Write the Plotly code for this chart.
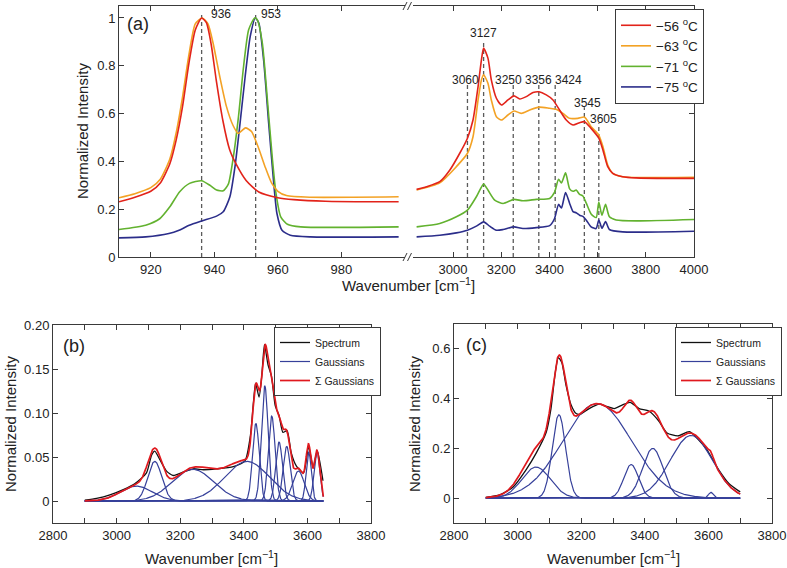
import numpy as np
import plotly.graph_objects as go

W, H = 787, 568
def px(x): return x / W
def py(y): return 1 - y / H

# ---------------- Panel (a) data ----------------
legend_labels = ["−56 <sup>o</sup>C", "−63 <sup>o</sup>C", "−71 <sup>o</sup>C", "−75 <sup>o</sup>C"]
colors_a = ["#e2231a", "#f3a225", "#62b22f", "#2b2d8a"]

red_low_wn = [910, 915, 920, 923, 926, 928, 930, 932, 934, 936, 937.5, 939, 940.6, 942.7, 944.8, 947, 950, 954, 960, 965, 975, 990, 998]
red_low_int = [0.231, 0.25, 0.275, 0.31, 0.39, 0.49, 0.63, 0.81, 0.95, 1.0, 0.98, 0.89, 0.74, 0.57, 0.45, 0.385, 0.32, 0.272, 0.248, 0.24, 0.233, 0.231, 0.231]
orange_low_wn = [910, 915, 920, 923, 926, 928, 930, 932, 934, 936.2, 938, 939.6, 941.7, 943.8, 945.9, 947.5, 949.8, 951.7, 953.8, 955.9, 958, 960, 962.7, 970, 998]
orange_low_int = [0.248, 0.265, 0.29, 0.325, 0.41, 0.52, 0.67, 0.845, 0.975, 1.0, 0.975, 0.895, 0.755, 0.63, 0.55, 0.517, 0.54, 0.525, 0.46, 0.38, 0.31, 0.275, 0.257, 0.25, 0.252]
green_low_wn = [910, 918.4, 922.8, 926, 929.1, 932.2, 936, 938.6, 940.7, 942.8, 944.4, 946, 947.6, 949.2, 950.8, 952.7, 953.5, 955.1, 956.7, 958.3, 959.4, 960.9, 963, 967.2, 998]
green_low_int = [0.115, 0.133, 0.16, 0.21, 0.273, 0.308, 0.319, 0.30, 0.28, 0.277, 0.305, 0.42, 0.587, 0.797, 0.951, 1.0, 0.993, 0.895, 0.657, 0.406, 0.266, 0.168, 0.137, 0.126, 0.126]
blue_low_wn = [910, 918.4, 925.7, 928.9, 932.1, 936, 940.7, 942.8, 944.9, 946.5, 948.1, 949.7, 951.3, 952.9, 954, 955.5, 957.1, 958.7, 959.7, 961.3, 963.9, 970.2, 998]
blue_low_int = [0.08, 0.084, 0.098, 0.112, 0.133, 0.151, 0.171, 0.189, 0.252, 0.378, 0.56, 0.755, 0.923, 1.0, 0.979, 0.825, 0.56, 0.308, 0.182, 0.112, 0.091, 0.084, 0.084]

red_high_wn = [2849, 2890, 2945, 2987, 3028, 3060, 3083, 3104, 3118, 3127, 3145, 3159, 3180, 3201, 3228, 3253, 3277, 3304, 3332, 3357, 3387, 3415, 3442, 3470, 3498, 3525, 3546, 3573, 3605, 3622, 3642, 3663, 3704, 3760, 3898, 4000]
red_high_int = [0.283, 0.294, 0.315, 0.364, 0.434, 0.497, 0.573, 0.713, 0.825, 0.874, 0.832, 0.741, 0.664, 0.636, 0.657, 0.674, 0.661, 0.671, 0.688, 0.691, 0.678, 0.657, 0.615, 0.573, 0.552, 0.562, 0.566, 0.538, 0.497, 0.448, 0.378, 0.35, 0.336, 0.331, 0.329, 0.329]
orange_high_wn = [2849, 2945, 3014, 3060, 3083, 3104, 3118, 3127, 3145, 3159, 3180, 3201, 3228, 3253, 3283, 3318, 3357, 3401, 3428, 3456, 3484, 3518, 3546, 3573, 3605, 3622, 3642, 3663, 3704, 4000]
orange_high_int = [0.28, 0.31, 0.378, 0.434, 0.503, 0.657, 0.741, 0.762, 0.727, 0.657, 0.587, 0.573, 0.594, 0.611, 0.601, 0.615, 0.627, 0.622, 0.618, 0.601, 0.58, 0.58, 0.585, 0.545, 0.51, 0.462, 0.385, 0.35, 0.336, 0.333]
green_high_wn = [2849, 2945, 3014, 3060, 3097, 3127, 3145, 3173, 3208, 3253, 3290, 3346, 3401, 3421, 3438, 3450, 3467, 3484, 3498, 3511, 3525, 3539, 3553, 3573, 3594, 3605, 3618, 3633, 3649, 3677, 3760, 4000]
green_high_int = [0.126, 0.14, 0.168, 0.196, 0.252, 0.305, 0.28, 0.238, 0.224, 0.241, 0.235, 0.241, 0.245, 0.27, 0.325, 0.31, 0.352, 0.285, 0.275, 0.28, 0.262, 0.255, 0.225, 0.18, 0.165, 0.23, 0.175, 0.22, 0.168, 0.155, 0.151, 0.157]
blue_high_wn = [2849, 2945, 3014, 3060, 3097, 3127, 3152, 3180, 3208, 3253, 3290, 3346, 3401, 3421, 3438, 3450, 3467, 3484, 3498, 3511, 3525, 3539, 3553, 3573, 3594, 3605, 3618, 3633, 3649, 3704, 4000]
blue_high_int = [0.084, 0.091, 0.101, 0.112, 0.129, 0.147, 0.129, 0.112, 0.115, 0.126, 0.119, 0.123, 0.131, 0.16, 0.22, 0.205, 0.27, 0.224, 0.19, 0.185, 0.175, 0.17, 0.154, 0.126, 0.119, 0.155, 0.12, 0.148, 0.115, 0.105, 0.108]

peaks_low = [936, 953]
peaks_low_top = [1.012, 1.012]
peaks_high = [3060, 3127, 3250, 3356, 3424, 3545, 3605]
peaks_high_top = [0.719, 0.90, 0.719, 0.719, 0.719, 0.626, 0.559]

# ---------------- Panel (b) data ----------------
spec_b_wn = [2900, 2937, 2979, 3021, 3057, 3094, 3110, 3120, 3136, 3157, 3178, 3210, 3241, 3273, 3314, 3367, 3404, 3421, 3431, 3437, 3448, 3456, 3465, 3476, 3487, 3499, 3511, 3523, 3536, 3549, 3565, 3588, 3604, 3618, 3631, 3649]
spec_b_int = [0.001, 0.003, 0.007, 0.013, 0.0196, 0.032, 0.052, 0.0566, 0.047, 0.034, 0.029, 0.033, 0.0366, 0.0355, 0.0365, 0.039, 0.046, 0.075, 0.115, 0.134, 0.118, 0.14, 0.178, 0.155, 0.142, 0.108, 0.097, 0.078, 0.08, 0.055, 0.04, 0.032, 0.062, 0.038, 0.057, 0.023]
gb_center = [3062, 3120, 3240, 3410, 3438, 3466, 3488, 3511, 3535, 3572, 3604, 3630]
gb_amp = [0.017, 0.045, 0.036, 0.045, 0.088, 0.131, 0.0965, 0.067, 0.062, 0.034, 0.056, 0.057]
gb_sigma = [50, 22, 65, 70, 10.5, 10.5, 10.5, 10.5, 11, 18, 8, 9]
b_range = [2900, 3650]

# ---------------- Panel (c) data ----------------
spec_c_wn = [2900, 2944, 2986, 3027, 3058, 3090, 3105, 3119, 3128, 3139, 3152, 3168, 3184, 3199, 3225, 3257, 3277, 3304, 3330, 3354, 3382, 3413, 3444, 3470, 3504, 3540, 3569, 3595, 3632, 3665, 3700]
spec_c_int = [0.003, 0.013, 0.045, 0.115, 0.18, 0.265, 0.36, 0.51, 0.565, 0.545, 0.455, 0.375, 0.34, 0.338, 0.36, 0.378, 0.37, 0.36, 0.375, 0.385, 0.36, 0.35, 0.31, 0.262, 0.25, 0.267, 0.235, 0.195, 0.115, 0.058, 0.025]
gc_center = [3058, 3130, 3250, 3357, 3425, 3546, 3608]
gc_amp = [0.125, 0.335, 0.38, 0.135, 0.2, 0.252, 0.023]
gc_sigma = [45, 21, 108, 23, 32, 66, 8]
c_range = [2900, 3700]

FONT = "Liberation Sans, Arial, Helvetica, sans-serif"
AXC = "#3a3a3a"
fig = go.Figure()

low_sets = [(red_low_wn, red_low_int), (orange_low_wn, orange_low_int), (green_low_wn, green_low_int), (blue_low_wn, blue_low_int)]
high_sets = [(red_high_wn, red_high_int), (orange_high_wn, orange_high_int), (green_high_wn, green_high_int), (blue_high_wn, blue_high_int)]

def dashed(xs, tops, xa, ya):
    X, Y = [], []
    for v, t in zip(xs, tops):
        X += [v, v, None]
        Y += [0, t, None]
    fig.add_trace(go.Scatter(x=X, y=Y, xaxis=xa, yaxis=ya, mode="lines", showlegend=False,
                             line=dict(color="#5a5a5a", width=1.3, dash="4px,3px"), hoverinfo="skip"))
dashed(peaks_low, peaks_low_top, "x", "y")
dashed(peaks_high, peaks_high_top, "x2", "y2")

for i in [3, 2, 1, 0]:
    wn, it = low_sets[i]
    fig.add_trace(go.Scatter(x=wn, y=it, xaxis="x", yaxis="y", mode="lines", name=legend_labels[i],
                             legend="legend", legendrank=i + 1,
                             line=dict(color=colors_a[i], width=1.6, shape="spline", smoothing=0.6)))
    wn, it = high_sets[i]
    fig.add_trace(go.Scatter(x=wn, y=it, xaxis="x2", yaxis="y2", mode="lines", showlegend=False,
                             line=dict(color=colors_a[i], width=1.6, shape="spline", smoothing=0.6)))

GBLUE = "#36409a"
GRED = "#e0191e"
def gauss_panel(spec_wn, spec_int, centers, amps, sigmas, rng, xa, ya, leg):
    grid = np.linspace(rng[0], rng[1], 800)
    fig.add_trace(go.Scatter(x=spec_wn, y=spec_int, xaxis=xa, yaxis=ya, mode="lines", name="Spectrum",
                             legend=leg, legendrank=1,
                             line=dict(color="#111111", width=1.3, shape="spline", smoothing=0.6)))
    GX, GY = [], []
    total = np.zeros_like(grid)
    for c, a, s in zip(centers, amps, sigmas):
        g = a * np.exp(-(grid - c) ** 2 / (2 * s ** 2))
        total += g
        GX += list(grid) + [None]
        GY += list(g) + [None]
    fig.add_trace(go.Scatter(x=GX, y=GY, xaxis=xa, yaxis=ya, mode="lines", name="Gaussians",
                             legend=leg, legendrank=2, line=dict(color=GBLUE, width=1.2)))
    fig.add_trace(go.Scatter(x=grid, y=total, xaxis=xa, yaxis=ya, mode="lines", name="Σ Gaussians",
                             legend=leg, legendrank=3, line=dict(color=GRED, width=1.7)))

gauss_panel(spec_b_wn, spec_b_int, gb_center, gb_amp, gb_sigma, b_range, "x3", "y3", "legend2")
gauss_panel(spec_c_wn, spec_c_int, gc_center, gc_amp, gc_sigma, c_range, "x4", "y4", "legend3")

tickfont = dict(family=FONT, size=13, color="#222")
common = dict(showline=True, linecolor=AXC, linewidth=1, ticks="inside", ticklen=5, tickcolor=AXC,
              showgrid=False, zeroline=False, tickfont=tickfont)
minor_x = dict(dtick=100, tick0=2800, ticks="inside", ticklen=5, tickcolor=AXC, showgrid=False)

yA = [py(257), py(6)]
yB = [py(523), py(325)]
fig.update_layout(
    width=W, height=H, margin=dict(l=0, r=0, t=0, b=0, autoexpand=False),
    paper_bgcolor="white", plot_bgcolor="white",
    font=dict(family=FONT, color="#222"),
    xaxis=dict(domain=[px(119), px(405)], range=[910, 1000], anchor="y", mirror="ticks",
               tickvals=[920, 940, 960, 980], **common),
    yaxis=dict(domain=yA, range=[0, 1.05], anchor="x", tickvals=[0, 0.2, 0.4, 0.6, 0.8, 1.0],
               ticktext=["0", "0.2", "0.4", "0.6", "0.8", "1"], **common),
    xaxis2=dict(domain=[px(413), px(694)], range=[2834, 4000], anchor="y2", mirror="ticks",
                tickvals=[3000, 3200, 3400, 3600, 3800, 4000], **common),
    yaxis2=dict(domain=yA, range=[0, 1.05], anchor="x2", side="right", showticklabels=False,
                tickvals=[0, 0.2, 0.4, 0.6, 0.8, 1.0], **common),
    xaxis3=dict(domain=[px(53), px(371)], range=[2800, 3800], anchor="y3", mirror="ticks",
                tick0=2800, dtick=200, minor=minor_x, **common),
    yaxis3=dict(domain=yB, range=[-0.025, 0.2], anchor="x3", mirror="ticks",
                tickvals=[0, 0.05, 0.10, 0.15, 0.20], ticktext=["0", "0.05", "0.10", "0.15", "0.20"], **common),
    xaxis4=dict(domain=[px(454), px(772)], range=[2800, 3800], anchor="y4", mirror="ticks",
                tick0=2800, dtick=200, minor=minor_x, **common),
    yaxis4=dict(domain=[py(523), py(324)], range=[-0.1, 0.7], anchor="x4", mirror="ticks",
                tickvals=[0, 0.2, 0.4, 0.6], ticktext=["0", "0.2", "0.4", "0.6"], **common),
    legend=dict(x=px(615), y=py(9), xanchor="left", yanchor="top", bgcolor="white",
                bordercolor=AXC, borderwidth=1, font=dict(family=FONT, size=13.5, color="#222"),
                tracegroupgap=0, itemwidth=30),
    legend2=dict(x=px(274), y=py(327), xanchor="left", yanchor="top", bgcolor="white",
                 bordercolor=AXC, borderwidth=1, font=dict(family=FONT, size=10.5, color="#222"),
                 tracegroupgap=0, itemwidth=30),
    legend3=dict(x=px(675), y=py(327), xanchor="left", yanchor="top", bgcolor="white",
                 bordercolor=AXC, borderwidth=1, font=dict(family=FONT, size=10.5, color="#222"),
                 tracegroupgap=0, itemwidth=30),
)

# axis-break marks (decoration, paper coordinates)
shapes = []
for yb in [6, 257]:
    for x0 in [403, 407.5]:
        shapes.append(dict(type="line", xref="paper", yref="paper",
                           x0=px(x0), y0=py(yb + 4), x1=px(x0 + 4), y1=py(yb - 4),
                           line=dict(color=AXC, width=1)))
fig.update_layout(shapes=shapes)

ann = []
lab_font = dict(family=FONT, size=12, color="#222")
ann.append(dict(x=936, y=1.018, xref="x", yref="y", text="936", showarrow=False, xanchor="left", yanchor="middle", xshift=7, font=lab_font))
ann.append(dict(x=953, y=1.018, xref="x", yref="y", text="953", showarrow=False, xanchor="left", yanchor="middle", xshift=3, font=lab_font))
hp = [(3060, 0.741, -2), (3127, 0.936, 0), (3250, 0.741, -5), (3356, 0.741, 0), (3424, 0.741, 13), (3545, 0.646, 3), (3605, 0.577, 5)]
for v, yy, sh in hp:
    ann.append(dict(x=v, y=yy, xref="x2", yref="y2", text=str(v), showarrow=False, xanchor="center", yanchor="middle", xshift=sh, font=lab_font))
pl_font = dict(family=FONT, size=18, color="#222")
for t, xx, yy in [("(a)", 138, 24), ("(b)", 74, 346), ("(c)", 476, 345)]:
    ann.append(dict(x=px(xx), y=py(yy), xref="paper", yref="paper", text=t, showarrow=False,
                    xanchor="center", yanchor="middle", font=pl_font))
tf = dict(family=FONT, size=15, color="#222")
xt = "Wavenumber [cm<sup>−1</sup>]"
yt = "Normalized Intensity"
for xx, yy in [(408, 284), (212, 557), (613, 557)]:
    ann.append(dict(x=px(xx), y=py(yy), xref="paper", yref="paper", text=xt, showarrow=False,
                    xanchor="center", yanchor="middle", font=tf))
for xx, yy in [(83, 131), (10, 424), (414, 424)]:
    ann.append(dict(x=px(xx), y=py(yy), xref="paper", yref="paper", text=yt, textangle=-90, showarrow=False,
                    xanchor="center", yanchor="middle", font=tf))
fig.update_layout(annotations=ann)

fig.write_html("out.html", config={"displayModeBar": False},
               post_script="document.body.style.margin='0';document.body.style.padding='0';")
